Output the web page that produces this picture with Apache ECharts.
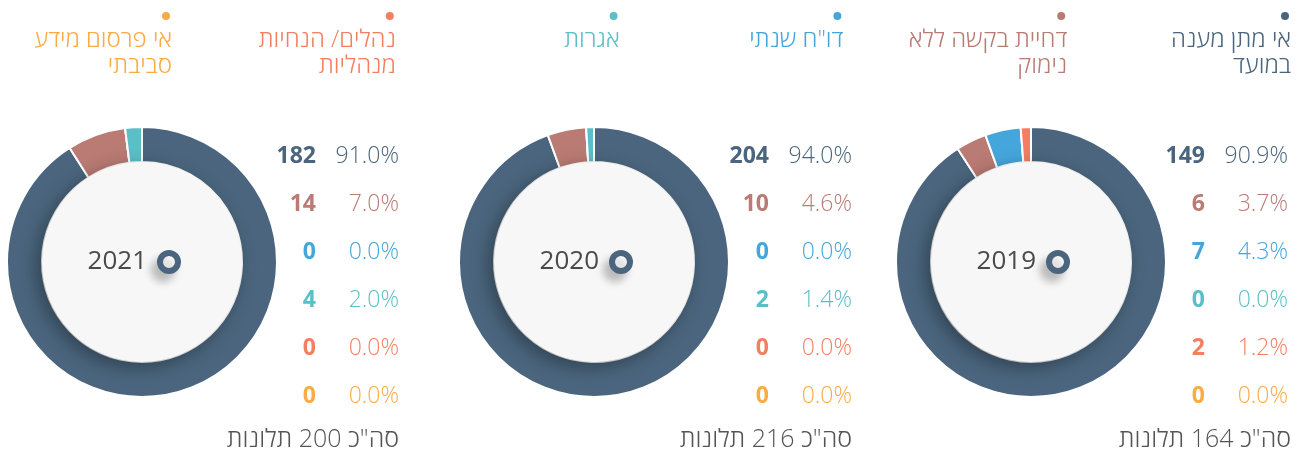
<!DOCTYPE html>
<html>
<head>
<meta charset="utf-8">
<script src="https://cdn.jsdelivr.net/npm/echarts@6/dist/echarts.min.js"></script>
<style>
  html, body { margin: 0; padding: 0; background: #fff; }
  #chart { width: 1307px; height: 459px; }
</style>
</head>
<body>
<div id="chart"></div>
<script>
// קטגוריות התלונות (סדר הפלחים)
const categories = ['אי מתן מענה במועד', 'דחיית בקשה ללא נימוק', 'דו"ח שנתי', 'אגרות', 'נהלים/ הנחיות מנהליות', 'אי פרסום מידע סביבתי'];
const legendLabels = ['אי מתן מענה\nבמועד', 'דחיית בקשה ללא\nנימוק', 'דו"ח שנתי', 'אגרות', 'נהלים/ הנחיות\nמנהליות', 'אי פרסום מידע\nסביבתי'];
const colors = ['#4a657d', '#b97b74', '#45a6dc', '#5bbfc8', '#f37f60', '#fbaa45'];

// שנים (מימין לשמאל)
const years = ['2019', '2020', '2021'];
const values2019 = [149, 6, 7, 0, 2, 0];
const values2020 = [204, 10, 0, 2, 0, 0];
const values2021 = [182, 14, 0, 4, 0, 0];
const percents2019 = ['90.9%', '3.7%', '4.3%', '0.0%', '1.2%', '0.0%'];
const percents2020 = ['94.0%', '4.6%', '0.0%', '1.4%', '0.0%', '0.0%'];
const percents2021 = ['91.0%', '7.0%', '0.0%', '2.0%', '0.0%', '0.0%'];
const totals = [164, 216, 200];

const allValues = [values2019, values2020, values2021];
const allPercents = [percents2019, percents2020, percents2021];

// מיקום כל לוח
const panels = [
  { cx: 1031, labelRight: 1288, totalRight: 1291 },
  { cx: 594, labelRight: 852, totalRight: 852 },
  { cx: 142, labelRight: 399, totalRight: 399 }
];
const cy = 262;
const font = "'Open Sans', 'DejaVu Sans', sans-serif";

const chart = echarts.init(document.getElementById('chart'));

const series = [];
const graphics = [];

years.forEach((year, p) => {
  const panel = panels[p];
  series.push({
    type: 'pie',
    name: year,
    center: [panel.cx, cy],
    radius: [100, 135],
    startAngle: 90,
    clockwise: true,
    silent: true,
    label: { show: false },
    labelLine: { show: false },
    itemStyle: { borderColor: '#fff', borderWidth: 2 },
    data: categories.map((c, i) => ({
      name: c,
      value: allValues[p][i],
      itemStyle: { color: colors[i] }
    }))
  });

  // עיגול פנימי
  graphics.push({
    type: 'circle', z: 10,
    shape: { cx: panel.cx, cy: cy, r: 100 },
    style: { fill: '#f7f7f7', shadowBlur: 18, shadowOffsetX: -5, shadowOffsetY: 5, shadowColor: 'rgba(0,0,0,0.35)' }
  });
  // שנה
  graphics.push({
    type: 'text', z: 11,
    x: panel.cx + 5, y: cy,
    style: { text: year, fill: '#4a4a4a', font: '26px ' + font, textAlign: 'right', textVerticalAlign: 'middle' }
  });
  // סמן טבעת
  graphics.push({
    type: 'circle', z: 11,
    shape: { cx: panel.cx + 27, cy: cy, r: 9 },
    style: { fill: '#fff', stroke: colors[0], lineWidth: 6, shadowBlur: 8, shadowOffsetX: -6, shadowOffsetY: 8, shadowColor: 'rgba(0,0,0,0.2)' }
  });
  // שורות ערכים
  categories.forEach((c, i) => {
    const y = 156 + i * 48;
    graphics.push({
      type: 'text', z: 11,
      x: panel.labelRight - 83, y: y,
      style: { text: String(allValues[p][i]), fill: colors[i], font: 'bold 23px ' + font, textAlign: 'right', textVerticalAlign: 'middle' }
    });
    graphics.push({
      type: 'text', z: 11,
      x: panel.labelRight, y: y,
      style: { text: allPercents[p][i], fill: colors[i], font: '300 23px ' + font, textAlign: 'right', textVerticalAlign: 'middle' }
    });
  });
  // סה"כ
  graphics.push({
    type: 'text', z: 11,
    x: panel.totalRight, y: 440,
    style: { text: 'סה"כ ' + totals[p] + ' תלונות', fill: '#555', font: '300 25px ' + font, textAlign: 'right', textVerticalAlign: 'middle' }
  });
});

// מקרא עליון
legendLabels.forEach((label, i) => {
  const right = 1291 - i * 223.8;
  graphics.push({
    type: 'circle', z: 11,
    shape: { cx: right - 6, cy: 16, r: 4 },
    style: { fill: colors[i] }
  });
  graphics.push({
    type: 'text', z: 11,
    x: right, y: 27,
    style: { text: label, fill: colors[i], font: '300 24px ' + font, lineHeight: 26, textAlign: 'right', textVerticalAlign: 'top' }
  });
});

chart.setOption({
  animation: false,
  series: series,
  graphic: graphics
});

window.addEventListener('resize', () => chart.resize());
</script>
</body>
</html>
